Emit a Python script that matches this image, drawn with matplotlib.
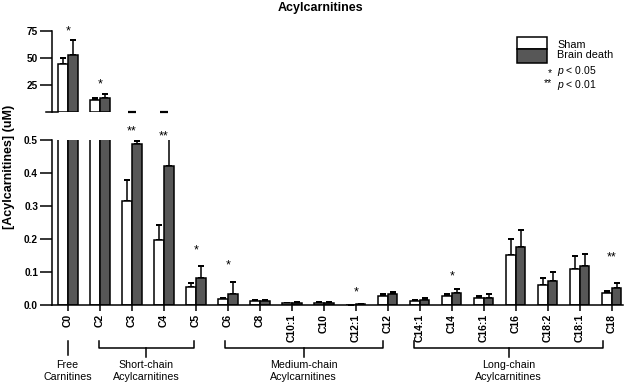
import matplotlib.pyplot as plt
from matplotlib.patches import Rectangle
from matplotlib.lines import Line2D
from matplotlib import transforms
import numpy as np

plt.rcParams['font.family'] = ['Liberation Sans', 'DejaVu Sans']
plt.rcParams['mathtext.fontset'] = 'custom'
plt.rcParams['mathtext.it'] = 'Liberation Sans:italic'
plt.rcParams['mathtext.rm'] = 'Liberation Sans'

categories = ['C0', 'C2', 'C3', 'C4', 'C5', 'C6', 'C8', 'C10:1', 'C10', 'C12:1',
              'C12', 'C14:1', 'C14', 'C16:1', 'C16', 'C18:2', 'C18:1', 'C18']
sham = [44.4, 11.1, 0.315, 0.199, 0.056, 0.019, 0.013, 0.006, 0.007, 0.001,
        0.028, 0.013, 0.028, 0.022, 0.151, 0.060, 0.110, 0.037]
sham_err = [5.3, 2.1, 0.065, 0.043, 0.012, 0.002, 0.002, 0.002, 0.002, 0.0,
            0.006, 0.003, 0.006, 0.005, 0.051, 0.023, 0.038, 0.007]
brain_death = [52.8, 13.2, 0.488, 0.422, 0.083, 0.035, 0.013, 0.007, 0.007, 0.004,
               0.034, 0.016, 0.038, 0.021, 0.177, 0.072, 0.118, 0.052]
bd_err = [13.9, 3.5, 0.010, 0.110, 0.036, 0.034, 0.002, 0.002, 0.002, 0.001,
          0.005, 0.006, 0.010, 0.012, 0.052, 0.029, 0.037, 0.015]
stars = ['*', '*', '**', '**', '*', '*', '', '', '', '*',
         '', '', '*', '', '', '', '', '**']
groups = [('Free\nCarnitines', 0, 0),
          ('Short-chain\nAcylcarnitines', 1, 4),
          ('Medium-chain\nAcylcarnitines', 5, 10),
          ('Long-chain\nAcylcarnitines', 11, 17)]

W, H = 625, 385
fig = plt.figure(figsize=(6.25, 3.85), dpi=100)
ax = fig.add_axes([52 / W, 1 - 305.3 / H, 571 / W, 165.3 / H])
ax_top = fig.add_axes([52 / W, 1 - 112 / H, 571 / W, 81 / H])

x = np.arange(len(categories))
bw = 0.3
dark = '#575757'
lw = 1.1

for a in (ax, ax_top):
    n = len(categories) if a is ax else 2
    a.bar(x[:n] - bw / 2, sham[:n], bw, color='white', edgecolor='black', linewidth=lw, zorder=2)
    a.bar(x[:n] + bw / 2, brain_death[:n], bw, color=dark, edgecolor='black', linewidth=lw, zorder=2)
    a.errorbar(x[:n] - bw / 2, sham[:n], yerr=[np.zeros(n), sham_err[:n]], fmt='none',
               ecolor='black', elinewidth=lw, capsize=2.3, capthick=lw * 1.3, zorder=1)
    a.errorbar(x[:n] + bw / 2, brain_death[:n], yerr=[np.zeros(n), bd_err[:n]], fmt='none',
               ecolor='black', elinewidth=lw, capsize=2.3, capthick=lw * 1.3, zorder=1)
    a.set_xlim(-0.5, 17.35)
    a.spines['top'].set_visible(False)
    a.spines['right'].set_visible(False)
    a.spines['left'].set_linewidth(lw)
    a.spines['bottom'].set_linewidth(lw)
    a.tick_params(axis='y', length=8.5, width=lw, labelsize=7.2, pad=1.5)

# small bars of C3/C4 collapse onto the top panel baseline
ax_top.plot(x[2:4], [0, 0], ls='none', marker='_', ms=6, mew=1.6, color='black', clip_on=False)
ax_top.plot([-0.69, -0.31], [0, 0], color='black', lw=lw, clip_on=False)

ax.set_ylim(0, 0.5)
ax.set_yticks([0.0, 0.1, 0.2, 0.3, 0.4, 0.5])
ax.set_yticklabels(['0.0', '0.1', '0.2', '0.3', '0.4', '0.5'], fontweight='bold')
ax.set_xticks(x)
ax.set_xticklabels(categories, rotation=90, fontsize=7.5, fontweight='bold')
ax.tick_params(axis='x', length=4, width=lw, pad=2)

ax_top.set_ylim(0, 75)
ax_top.set_yticks([25, 50, 75])
ax_top.set_yticklabels(['25', '50', '75'], fontweight='bold')
ax_top.spines['bottom'].set_visible(False)
ax_top.set_xticks([])

# significance marks (glyph centre heights in pixels)
star_px = [27.7, 80.7, 128.3, 133.3, 246.7, 261.7, 0, 0, 0, 289.3,
           0, 0, 273.3, 0, 0, 0, 0, 254.3]
tr = transforms.blended_transform_factory(ax.transData, fig.transFigure)
for i, s in enumerate(stars):
    if s:
        fig.text(x[i], 1 - (star_px[i] + 6.5) / H, s, transform=tr, ha='center',
                 va='baseline', fontsize=9)

# group brackets below the axis
trx = ax.get_xaxis_transform()
def yf(p):
    return (305.3 - p) / 165.3
for label, i0, i1 in groups:
    a0 = 0.985 * i0 - 0.015
    a1 = 0.985 * i1 - 0.015
    mid = (a0 + a1) / 2
    if i0 == i1:
        ax.add_line(Line2D([a0, a0], [yf(341), yf(355)], transform=trx, color='black',
                           lw=lw, clip_on=False))
    else:
        ax.add_line(Line2D([a0, a0, a1, a1], [yf(341), yf(348), yf(348), yf(341)],
                           transform=trx, color='black', lw=lw, clip_on=False))
        ax.add_line(Line2D([mid, mid], [yf(348), yf(357)], transform=trx, color='black',
                           lw=lw, clip_on=False))
    ax.text(mid, yf(371), label, transform=trx, ha='center', va='center',
            fontsize=7.7, linespacing=1.15)

# title and y label
fig.text(321 / W, 1 - 7.5 / H, 'Acylcarnitines', ha='center', va='center',
         fontsize=9, fontweight='bold')
fig.text(9 / W, 1 - 167 / H, '[Acylcarnitines] (uM)', rotation=90, ha='center',
         va='center', fontsize=9, fontweight='bold')

# legend
fig.add_artist(Rectangle((516.7 / W, 1 - 49.3 / H), 30 / W, 12.6 / H, transform=fig.transFigure,
                         facecolor='white', edgecolor='black', linewidth=lw))
fig.add_artist(Rectangle((516.7 / W, 1 - 63.3 / H), 30 / W, 14 / H, transform=fig.transFigure,
                         facecolor=dark, edgecolor='black', linewidth=lw))
fig.text(557.3 / W, 1 - 49.7 / H, 'Sham\nBrain death', va='center', fontsize=7.8,
         linespacing=1.0)
fig.text(552 / W, 1 - 78.3 / H, '*\n**', ha='right', va='center', fontsize=7.5,
         linespacing=1.0)
fig.text(557.3 / W, 1 - 78.3 / H, '$\\it{p}$ < 0.05\n$\\it{p}$ < 0.01', va='center',
         fontsize=7.5, linespacing=1.0)

fig.savefig('out.png', dpi=100)
